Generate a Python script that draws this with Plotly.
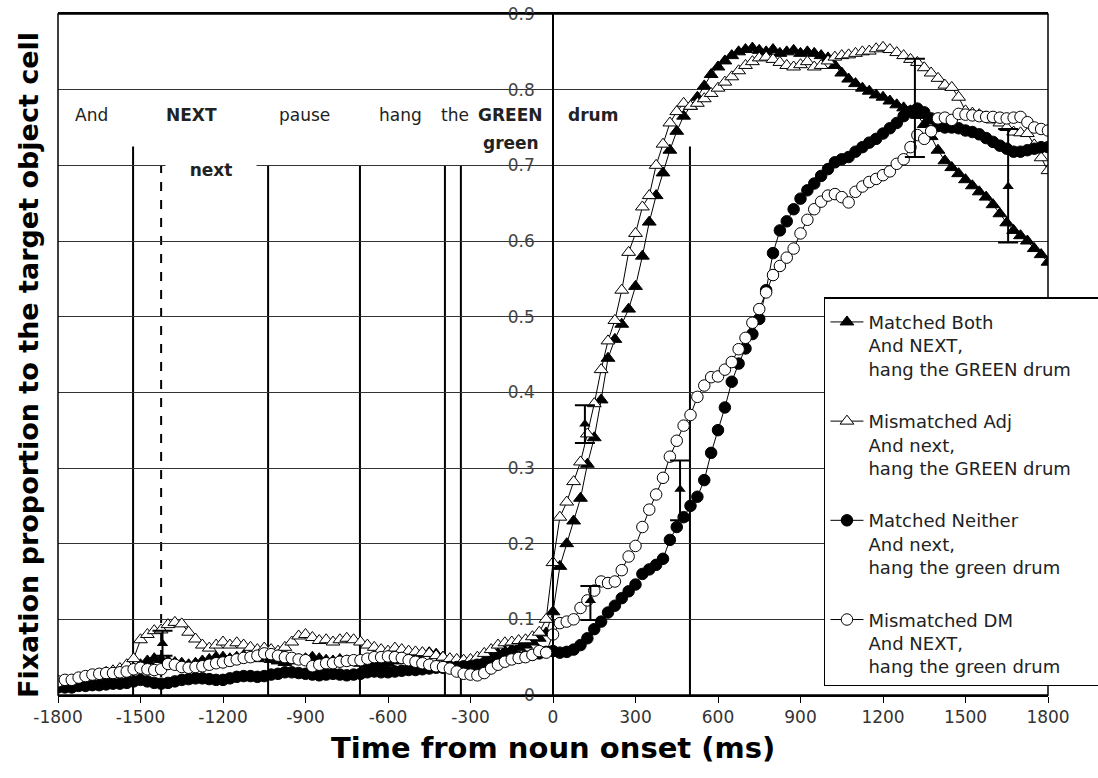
import plotly.graph_objects as go

# ---------------- data ----------------
time_ms = list(range(-1800, 1801, 25))

matched_both = [
    0.015, 0.015, 0.018, 0.02, 0.02, 0.022, 0.025, 0.025, 0.028, 0.03, 0.032, 0.035, 0.04,
    0.045, 0.048, 0.047, 0.045, 0.043, 0.042, 0.04, 0.042, 0.045, 0.047, 0.05, 0.05,
    0.048, 0.05, 0.052, 0.05, 0.048, 0.05, 0.047, 0.045, 0.043, 0.045, 0.047, 0.048,
    0.05, 0.048, 0.046, 0.045, 0.047, 0.045, 0.043, 0.042, 0.04, 0.042, 0.04, 0.042,
    0.045, 0.048, 0.05, 0.052, 0.055, 0.056, 0.054, 0.05, 0.047, 0.044, 0.04, 0.038,
    0.042, 0.045, 0.05, 0.055, 0.058, 0.06, 0.063, 0.066, 0.07, 0.075, 0.082, 0.11,
    0.17, 0.2, 0.23, 0.26, 0.305, 0.34, 0.39, 0.445, 0.47, 0.49, 0.51, 0.54,
    0.58, 0.625, 0.66, 0.69, 0.72, 0.745, 0.765, 0.778, 0.79, 0.805, 0.82, 0.83,
    0.838, 0.845, 0.85, 0.853, 0.855, 0.852, 0.85, 0.853, 0.848, 0.85, 0.852, 0.848,
    0.85, 0.848, 0.845, 0.842, 0.832, 0.822, 0.814, 0.808, 0.802, 0.798, 0.793, 0.79,
    0.785, 0.78, 0.776, 0.772, 0.766, 0.754, 0.738, 0.72, 0.706, 0.697, 0.689, 0.681,
    0.673, 0.665, 0.658, 0.648, 0.636, 0.624, 0.614, 0.607, 0.6, 0.59, 0.582, 0.572,
]

mismatched_adj = [
    0.015, 0.015, 0.016, 0.018, 0.02, 0.022, 0.026, 0.03, 0.032, 0.035, 0.04, 0.048, 0.073,
    0.08, 0.085, 0.086, 0.093, 0.096, 0.094, 0.083, 0.074, 0.066, 0.062, 0.066, 0.07,
    0.066, 0.069, 0.066, 0.063, 0.06, 0.062, 0.06, 0.058, 0.063, 0.07, 0.078, 0.08,
    0.076, 0.072, 0.073, 0.07, 0.073, 0.075, 0.073, 0.07, 0.066, 0.063, 0.06, 0.058,
    0.062, 0.06, 0.058, 0.057, 0.056, 0.055, 0.052, 0.05, 0.048, 0.047, 0.046, 0.047,
    0.05, 0.055, 0.06, 0.066, 0.069, 0.07, 0.072, 0.073, 0.077, 0.083, 0.1, 0.175,
    0.235, 0.255, 0.282, 0.308, 0.345, 0.385, 0.43, 0.468, 0.495, 0.535, 0.585, 0.61,
    0.645, 0.66, 0.70, 0.728, 0.756, 0.771, 0.782, 0.778, 0.782, 0.788, 0.795, 0.802,
    0.81, 0.817, 0.825, 0.832, 0.837, 0.842, 0.843, 0.84, 0.836, 0.832, 0.83, 0.833,
    0.837, 0.83, 0.832, 0.838, 0.843, 0.845, 0.846, 0.848, 0.85, 0.851, 0.854, 0.856,
    0.853, 0.849, 0.845, 0.84, 0.836, 0.829, 0.822, 0.815, 0.806, 0.803, 0.79, 0.772,
    0.769, 0.767, 0.764, 0.76, 0.756, 0.75, 0.744, 0.743, 0.742, 0.727, 0.71, 0.693,
]

matched_neither = [
    0.01, 0.01, 0.01, 0.012, 0.012, 0.013, 0.013, 0.014, 0.015, 0.015, 0.016, 0.018, 0.02,
    0.018, 0.016, 0.015, 0.016, 0.018, 0.02, 0.021, 0.022, 0.022, 0.021, 0.02, 0.02,
    0.022, 0.024, 0.025, 0.025, 0.024, 0.025, 0.027, 0.028, 0.03, 0.03, 0.029, 0.028,
    0.027, 0.026, 0.027, 0.028, 0.027, 0.026, 0.027, 0.028, 0.03, 0.031, 0.03, 0.03,
    0.031, 0.032, 0.033, 0.033, 0.034, 0.035, 0.036, 0.036, 0.037, 0.037, 0.038, 0.038,
    0.04, 0.042, 0.044, 0.046, 0.047, 0.048, 0.05, 0.051, 0.053, 0.055, 0.057, 0.058,
    0.056, 0.057, 0.06, 0.066, 0.075, 0.087, 0.097, 0.109, 0.118, 0.128, 0.137, 0.146,
    0.16, 0.166, 0.172, 0.18, 0.205, 0.222, 0.235, 0.25, 0.262, 0.284, 0.32, 0.35,
    0.38, 0.414, 0.438, 0.458, 0.477, 0.497, 0.535, 0.584, 0.614, 0.626, 0.642, 0.656,
    0.667, 0.676, 0.686, 0.695, 0.704, 0.708, 0.711, 0.718, 0.724, 0.73, 0.735, 0.742,
    0.749, 0.756, 0.765, 0.771, 0.775, 0.77, 0.762, 0.752, 0.75, 0.75, 0.749, 0.746,
    0.744, 0.741, 0.736, 0.731, 0.726, 0.722, 0.718, 0.718, 0.72, 0.722, 0.724, 0.724,
]

mismatched_dm = [
    0.018, 0.02, 0.02, 0.023, 0.025, 0.027, 0.028, 0.029, 0.029, 0.03, 0.031, 0.034, 0.036,
    0.034, 0.033, 0.034, 0.041, 0.04, 0.037, 0.036, 0.037, 0.038, 0.04, 0.042, 0.043,
    0.045, 0.047, 0.049, 0.05, 0.052, 0.055, 0.054, 0.052, 0.05, 0.049, 0.047, 0.046,
    0.038, 0.04, 0.042, 0.042, 0.044, 0.045, 0.046, 0.046, 0.048, 0.05, 0.05, 0.051,
    0.05, 0.049, 0.046, 0.044, 0.042, 0.04, 0.038, 0.037, 0.035, 0.031, 0.028, 0.027,
    0.026, 0.029, 0.035, 0.04, 0.044, 0.047, 0.049, 0.05, 0.053, 0.058, 0.056, 0.08,
    0.095, 0.097, 0.1, 0.115, 0.125, 0.138, 0.15, 0.148, 0.15, 0.165, 0.183, 0.197,
    0.222, 0.245, 0.265, 0.287, 0.315, 0.336, 0.356, 0.37, 0.394, 0.409, 0.42, 0.421,
    0.43, 0.44, 0.457, 0.472, 0.492, 0.51, 0.532, 0.555, 0.567, 0.578, 0.59, 0.61,
    0.628, 0.642, 0.652, 0.66, 0.662, 0.658, 0.651, 0.665, 0.672, 0.678, 0.682, 0.687,
    0.692, 0.702, 0.708, 0.724, 0.74, 0.735, 0.745, 0.762, 0.763, 0.76, 0.768, 0.767,
    0.766, 0.765, 0.764, 0.764, 0.763, 0.762, 0.763, 0.764, 0.757, 0.75, 0.748, 0.746,
]

series_names = [
    "Matched Both<br>And NEXT,<br>hang the GREEN drum\u00a0\u00a0\u00a0\u00a0",
    "Mismatched Adj<br>And next,<br>hang the GREEN drum",
    "Matched Neither<br>And next,<br>hang the green drum",
    "Mismatched DM<br>And NEXT,<br>hang the green drum",
]

# error bars shown at selected times
err_x = [-1420, 116, 136, 462, 1316, 1655]
err_y = [0.068, 0.358, 0.125, 0.272, 0.776, 0.672]
err_plus = [0.017, 0.025, 0.019, 0.038, 0.065, 0.076]
err_minus = [0.016, 0.025, 0.026, 0.041, 0.065, 0.074]

# word boundaries (ms) and their heights
bound_x = [-1527, -1425, -1036, -702, -393, -335, 498]
bound_top = [0.725, 0.70, 0.70, 0.70, 0.70, 0.70, 0.725]
bound_dash = ["solid", "dash", "solid", "solid", "solid", "solid", "solid"]

# word labels
word_text = ["And", "NEXT", "pause", "hang", "the", "GREEN", "green", "drum", "next"]
word_x = [-1680, -1313, -902, -553, -356, -153, -153, 145, -1244]
word_y = [0.766, 0.766, 0.766, 0.766, 0.766, 0.766, 0.729, 0.766, 0.694]
word_bold = [False, True, False, False, False, True, True, True, True]

x_ticks = list(range(-1800, 1801, 300))
x_ticklabels = [str(v) for v in x_ticks]

FONT = "DejaVu Sans"

# ---------------- figure ----------------
fig = go.Figure()

styles = [
    dict(symbol="triangle-up", color="black", size=12),
    dict(symbol="triangle-up", color="white", size=12),
    dict(symbol="circle", color="black", size=11.5),
    dict(symbol="circle", color="white", size=11.5),
]
all_series = [matched_both, mismatched_adj, matched_neither, mismatched_dm]

for i, (name, vals, st) in enumerate(zip(series_names, all_series, styles)):
    fig.add_trace(go.Scatter(
        x=time_ms, y=vals, name=name, mode="lines+markers",
        legendgroup="g%d" % i,
        line=dict(color="black", width=1),
        marker=dict(symbol=st["symbol"], size=st["size"], color=st["color"],
                    line=dict(color="black", width=1)),
    ))

fig.add_trace(go.Scatter(
    x=err_x, y=err_y, mode="markers", showlegend=False,
    marker=dict(symbol="triangle-up", size=10, color="black"),
    error_y=dict(type="data", symmetric=False, array=err_plus, arrayminus=err_minus,
                 color="black", thickness=2, width=10),
))

shapes = []
for bx, bt, bd in zip(bound_x, bound_top, bound_dash):
    shapes.append(dict(type="line", xref="x", yref="y", x0=bx, x1=bx, y0=0, y1=bt,
                       line=dict(color="black", width=2, dash=bd), layer="below"))
shapes.append(dict(type="rect", xref="paper", yref="paper", x0=0, x1=1, y0=0, y1=1,
                   line=dict(color="black", width=1.5)))

annotations = []
for t, wx, wy, b in zip(word_text, word_x, word_y, word_bold):
    ann = dict(x=wx, y=wy, xref="x", yref="y", text=("<b>%s</b>" % t) if b else t,
               showarrow=False, font=dict(family=FONT, size=17, color="#222"),
               xanchor="center", yanchor="middle")
    if t == "next":
        ann.update(bgcolor="white", width=88)
    annotations.append(ann)

annotations.append(dict(x=0.5, y=-0.078, xref="paper", yref="paper",
                        text="<b>Time from noun onset (ms)</b>", showarrow=False,
                        font=dict(family=FONT, size=29, color="black"),
                        xanchor="center", yanchor="middle"))
annotations.append(dict(x=-0.030, y=0.485, xref="paper", yref="paper",
                        text="<b>Fixation proportion to the target object cell</b>",
                        showarrow=False, textangle=-90,
                        font=dict(family=FONT, size=27, color="black"),
                        xanchor="center", yanchor="middle"))

fig.update_layout(
    width=1098, height=778,
    margin=dict(l=58, r=50, t=14, b=83, autoexpand=False),
    paper_bgcolor="white", plot_bgcolor="white",
    font=dict(family=FONT, size=17, color="#333"),
    xaxis=dict(range=[-1800, 1800], tickvals=x_ticks, ticktext=x_ticklabels,
               ticks="outside", ticklen=6,
               tickcolor="black", tickwidth=1, showline=True, linecolor="black",
               linewidth=1.5, mirror=True, showgrid=False, zeroline=False,
               tickfont=dict(family=FONT, size=17, color="#333")),
    yaxis=dict(range=[0, 0.9], dtick=0.1, tick0=0, anchor="free", position=0.5,
               showgrid=True, gridcolor="#333", gridwidth=1, showline=True,
               linecolor="black", linewidth=1.5, zeroline=False, ticks="",
               ticklabelstandoff=14,
               tickfont=dict(family=FONT, size=17, color="#444")),
    legend=dict(x=0.7737, y=0.5844, xanchor="left", yanchor="top",
                bgcolor="white", bordercolor="black", borderwidth=1.5,
                font=dict(family=FONT, size=18, color="#222"),
                title=dict(text=" ", font=dict(size=4)),
                tracegroupgap=26, valign="top", itemwidth=33),
    shapes=shapes, annotations=annotations,
    showlegend=True,
)

fig.write_html("out.html")
